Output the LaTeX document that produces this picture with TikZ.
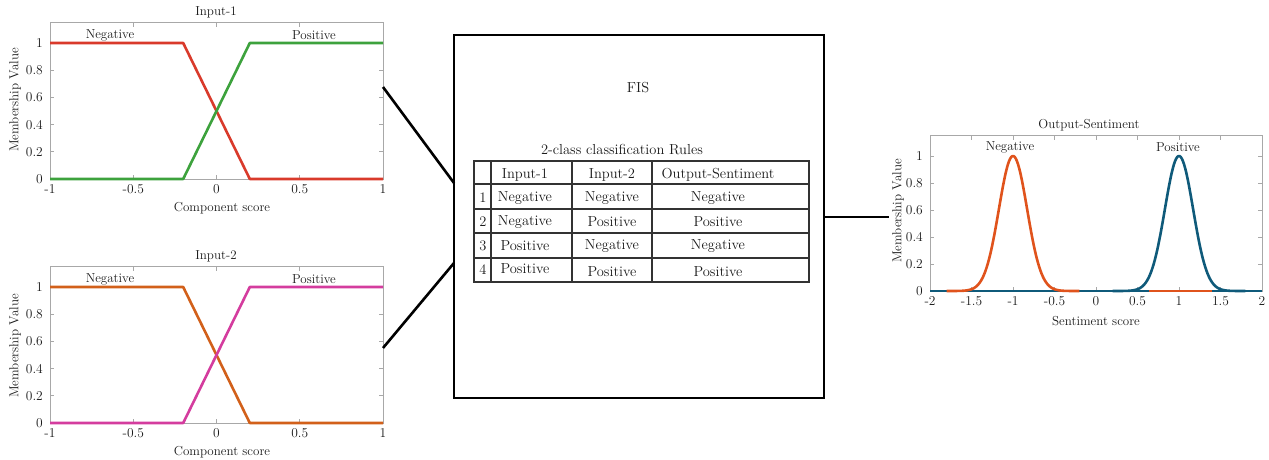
\documentclass[tikz,border=0pt]{standalone}
\definecolor{txt}{HTML}{1A1A1A}
\definecolor{framegray}{HTML}{A8A8A8}
\definecolor{negred}{HTML}{D93A2B}
\definecolor{posgreen}{HTML}{3DA23D}
\definecolor{negbrown}{HTML}{D2601A}
\definecolor{posmag}{HTML}{D43C9E}
\definecolor{outneg}{HTML}{E0531C}
\definecolor{outpos}{HTML}{0F5A7A}
\definecolor{gridc}{HTML}{333333}
\tikzset{
  plotfont/.style={font=\fontsize{13}{15}\selectfont, text=txt, inner sep=1pt},
  tickfont/.style={font=\fontsize{13.5}{15}\selectfont, text=txt, inner sep=1pt},
  tabfont/.style={font=\fontsize{14.5}{16}\selectfont, text=txt, inner sep=1pt},
  axframe/.style={draw=framegray, line width=0.8pt},
  tickmark/.style={draw=framegray, line width=0.8pt},
  mfline/.style={line width=2.6pt, line join=round},
  link/.style={draw=black, line width=2.6pt},
  tabline/.style={draw=gridc, line width=1.6pt},
}
% frame, ticks and tick labels of a membership plot (data coordinates)
\newcommand\mfaxes[3]{% #1 xmin, #2 xmax, #3 x tick list
  \draw[axframe] (#1,0) rectangle (#2,1.15);
  \foreach \t in {#3} {
    \draw[tickmark] (\t,0) -- ++(0,4pt) (\t,1.15) -- ++(0,-4pt);
    \node[tickfont, anchor=north] at ([yshift=-4pt]\t,0) {\t};
  }
  \foreach \v/\l in {0/0,0.2/0.2,0.4/0.4,0.6/0.6,0.8/0.8,1/1} {
    \draw[tickmark] (#1,\v) -- ++(4pt,0) (#2,\v) -- ++(-4pt,0);
    \node[tickfont, anchor=east] at ([xshift=-6pt]#1,\v) {\l};
  }
}
\begin{document}
\begin{tikzpicture}[x=1pt, y=-1pt]
\useasboundingbox (0,0) rectangle (1269,460);

% ---------- Input-1 ----------
\begin{scope}[shift={(216.5,179)}, x=166.5pt, y=136pt]
  \mfaxes{-1}{1}{-1,-0.5,0,0.5,1}
  \draw[mfline, negred] (-1,1) -- (-0.2,1) -- (0.2,0) -- (1,0);
  \draw[mfline, posgreen] (-1,0) -- (-0.2,0) -- (0.2,1) -- (1,1);
\end{scope}
\node[plotfont] (t1) at (216,12) {Input-1};
\node[plotfont] (x1) at (222,208) {Component score};
\node[plotfont, rotate=90] (y1) at (15,100) {Membership Value};
\node[plotfont] (n1) at (110,35) {Negative};
\node[plotfont] (p1) at (314,35) {Positive};
\coordinate (out1) at (383,87);

% ---------- Input-2 ----------
\begin{scope}[shift={(216.5,423)}, x=166.5pt, y=136pt]
  \mfaxes{-1}{1}{-1,-0.5,0,0.5,1}
  \draw[mfline, negbrown] (-1,1) -- (-0.2,1) -- (0.2,0) -- (1,0);
  \draw[mfline, posmag] (-1,0) -- (-0.2,0) -- (0.2,1) -- (1,1);
\end{scope}
\node[plotfont] (t2) at (216,256) {Input-2};
\node[plotfont] (x2) at (222,452) {Component score};
\node[plotfont, rotate=90] (y2) at (15,346) {Membership Value};
\node[plotfont] (n2) at (110,279) {Negative};
\node[plotfont] (p2) at (314,279) {Positive};
\coordinate (out2) at (383,348);

% ---------- FIS block ----------
\node[draw=black, line width=2.6pt, minimum width=370pt, minimum height=363pt,
      inner sep=0pt] (fis) at (639,216.5) {};
\node[tabfont] (fislabel) at (638,88) {FIS};
\node[tabfont] (rulestitle) at (622,150) {2-class classification Rules};
\coordinate (in1) at (454,183);
\coordinate (in2) at (454,263);
\coordinate (fisout) at (824,217);

% rule table grid
\draw[tabline] (474,161) rectangle (809,282);
\foreach \yy in {184,209,233,258} \draw[tabline] (474,\yy) -- (809,\yy);
\foreach \xx in {491,572,652} \draw[tabline] (\xx,161) -- (\xx,282);

% rule table entries
\node[tabfont] (h1) at (525,175) {Input-1};
\node[tabfont] (h2) at (612,175) {Input-2};
\node[tabfont] (h3) at (718,175) {Output-Sentiment};
\node[tabfont] (r1) at (483,198) {1};
\node[tabfont] (r2) at (483,222) {2};
\node[tabfont] (r3) at (483,246) {3};
\node[tabfont] (r4) at (483,270) {4};
\node[tabfont] (a1) at (525,198) {Negative};
\node[tabfont] (b1) at (612,198) {Negative};
\node[tabfont] (c1) at (718,198) {Negative};
\node[tabfont] (a2) at (525,222) {Negative};
\node[tabfont] (b2) at (612,222) {Positive};
\node[tabfont] (c2) at (718,222) {Positive};
\node[tabfont] (a3) at (525,246) {Positive};
\node[tabfont] (b3) at (612,246) {Negative};
\node[tabfont] (c3) at (718,246) {Negative};
\node[tabfont] (a4) at (525,269) {Positive};
\node[tabfont] (b4) at (612,272) {Positive};
\node[tabfont] (c4) at (718,272) {Positive};

% ---------- Output-Sentiment ----------
\begin{scope}[shift={(1096,291)}, x=83pt, y=135pt]
  \mfaxes{-2}{2}{-2,-1.5,-1,-0.5,0,0.5,1,1.5,2}
  \draw[mfline, outneg] (-2,0) -- (2,0);
  \draw[mfline, outpos] (-2,0) -- (2,0);
  \draw[mfline, outneg] plot[domain=-1.8:-0.2, samples=120, smooth]
      (\x, {exp(-((\x+1)^2)/(2*0.17*0.17))});
  \draw[mfline, outpos] plot[domain=0.2:1.8, samples=120, smooth]
      (\x, {exp(-((\x-1)^2)/(2*0.17*0.17))});
  \draw[mfline, outneg] (0.64,0) -- (1.4,0);
\end{scope}
\node[plotfont] (t3) at (1089,125) {Output-Sentiment};
\node[plotfont] (x3) at (1096,321) {Sentiment score};
\node[plotfont, rotate=90] (y3) at (898,211) {Membership Value};
\node[plotfont] (n3) at (1010,147) {Negative};
\node[plotfont] (p3) at (1178,147) {Positive};
\coordinate (in3) at (889,217);

% ---------- connectors ----------
\draw[link] (out1) -- (in1);
\draw[link] (out2) -- (in2);
\draw[link] (fisout) -- (in3);
\end{tikzpicture}
\end{document}
